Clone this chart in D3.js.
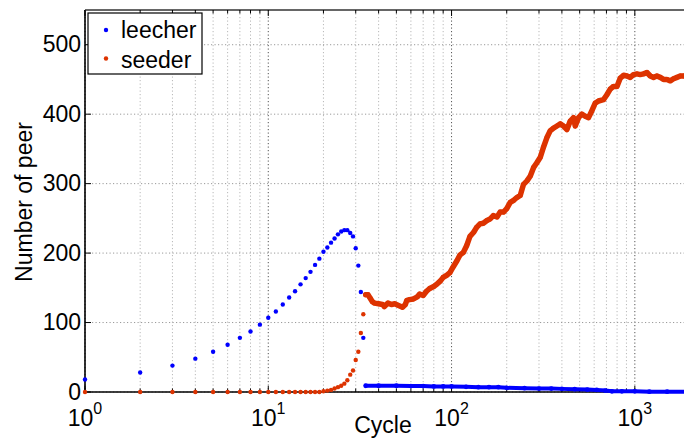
<!DOCTYPE html>
<html>
<head>
<meta charset="utf-8">
<script src="https://cdn.jsdelivr.net/npm/d3@7"></script>
<style>
  body { margin: 0; background: #fff; }
  svg { display: block; }
  text { font-family: "Liberation Sans", Arial, Helvetica, sans-serif; fill: #000; }
</style>
</head>
<body>
<svg id="chart" width="684" height="441"></svg>
<script>
// Peers in the swarm for cycles 1..33 (one reading per cycle)
const leecherEarly = [18, 28, 38, 48, 58, 68, 78, 87, 97, 107, 116, 126, 136, 145, 155,
  164, 173, 183, 192, 202, 208, 215, 221, 227, 231, 233, 233, 229, 224, 207, 182, 144, 78];
const seederEarly = [0, 0, 0, 0, 0, 0, 0, 0, 0, 0, 0, 0, 0, 0, 0, 0, 0, 0, 0,
  1, 2, 3, 5, 7, 9, 12, 17, 25, 31, 46, 58, 85, 112];

// Later cycles, given as [cycle, peers]
const leecherLate = [
  [34, 9], [40, 9], [50, 9], [60, 8.5], [70, 8.5], [80, 8], [90, 8], [100, 8],
  [120, 7.5], [140, 7], [160, 7], [180, 7], [200, 6], [250, 5.5], [300, 5],
  [350, 5], [400, 4.5], [470, 4], [550, 3.5], [620, 3], [690, 2], [750, 1],
  [850, 1], [1000, 1], [1200, 0.5], [1500, 0.5], [2000, 0.5]
];
const seederLate = [
  [34, 140], [35, 140], [36, 135], [37, 130], [38, 128], [40, 127], [42, 126],
  [43, 123], [45, 128], [47, 126], [49, 127], [51, 125], [54, 122], [56, 126],
  [57, 132], [59, 133], [62, 134], [65, 137], [67, 141], [70, 139], [73, 145],
  [76, 149], [80, 152], [83, 155], [87, 160], [90, 165], [94, 168], [98, 172],
  [102, 180], [107, 189], [111, 197], [116, 201], [121, 211], [126, 224],
  [132, 230], [137, 237], [143, 242], [149, 243], [156, 247], [162, 249],
  [169, 254], [177, 252], [184, 259], [192, 259], [200, 264], [209, 273],
  [218, 276], [227, 280], [237, 283], [247, 299], [258, 304], [269, 311],
  [280, 323], [292, 330], [305, 338], [317, 352], [331, 366], [345, 376],
  [360, 380], [376, 383], [392, 386], [408, 383], [426, 378], [444, 390],
  [463, 395], [473, 383], [493, 395], [514, 400], [536, 397], [559, 395],
  [583, 405], [608, 416], [634, 419], [675, 421], [704, 428], [734, 436],
  [765, 440], [799, 440], [833, 452], [868, 456], [906, 455], [944, 453],
  [984, 457], [1027, 458], [1070, 457], [1116, 458], [1164, 460], [1214, 455],
  [1265, 453], [1320, 455], [1376, 453], [1435, 450], [1497, 450], [1561, 448],
  [1627, 451], [1698, 453], [1770, 455], [1845, 455], [2000, 455]
];

const yTicks = [0, 100, 200, 300, 400, 500];
const xDecades = [1, 10, 100, 1000];
const seriesNames = ["leecher", "seeder"];
const colors = { leecher: "#0000ff", seeder: "#dd3300" };

const plot = { left: 85, right: 690, top: 10, bottom: 392 };
const x = d3.scaleLog().domain([1, 2000]).range([plot.left, plot.right]);
const y = d3.scaleLinear().domain([0, 550]).range([plot.bottom, plot.top]);

const svg = d3.select("#chart");

// grid
const grid = svg.append("g");
x.ticks().forEach(t => {
  const major = xDecades.includes(t);
  grid.append("line")
    .attr("x1", x(t)).attr("x2", x(t))
    .attr("y1", plot.top).attr("y2", plot.bottom)
    .attr("stroke", major ? "#555" : "#b8b8b8")
    .attr("stroke-width", 1)
    .attr("stroke-dasharray", "1.2,2.3");
});
yTicks.forEach(t => {
  grid.append("line")
    .attr("x1", plot.left).attr("x2", plot.right)
    .attr("y1", y(t)).attr("y2", y(t))
    .attr("stroke", "#999")
    .attr("stroke-width", 1)
    .attr("stroke-dasharray", "1.2,2.3");
});

// axes box and ticks
const axes = svg.append("g").attr("stroke", "#000");
axes.append("line").attr("x1", plot.left).attr("x2", plot.left)
  .attr("y1", plot.top).attr("y2", plot.bottom).attr("stroke-width", 1.6);
axes.append("line").attr("x1", plot.left).attr("x2", plot.right)
  .attr("y1", plot.bottom).attr("y2", plot.bottom).attr("stroke-width", 1.6);
axes.append("line").attr("x1", plot.left).attr("x2", plot.right)
  .attr("y1", plot.top).attr("y2", plot.top).attr("stroke-width", 1.6).attr("stroke", "#333");

x.ticks().forEach(t => {
  const len = xDecades.includes(t) ? 6 : 3.5;
  axes.append("line").attr("x1", x(t)).attr("x2", x(t))
    .attr("y1", plot.bottom).attr("y2", plot.bottom - len).attr("stroke-width", 1);
  axes.append("line").attr("x1", x(t)).attr("x2", x(t))
    .attr("y1", plot.top).attr("y2", plot.top + len).attr("stroke-width", 1);
});
yTicks.forEach(t => {
  axes.append("line").attr("x1", plot.left).attr("x2", plot.left + 6)
    .attr("y1", y(t)).attr("y2", y(t)).attr("stroke-width", 1);
});

// tick labels
const labels = svg.append("g").attr("font-size", 23);
yTicks.forEach(t => {
  labels.append("text").attr("x", 81).attr("y", y(t) + 7.5)
    .attr("text-anchor", "end").text(t);
});
xDecades.forEach(t => {
  const txt = labels.append("text").attr("x", x(t)).attr("y", 425.5)
    .attr("text-anchor", "middle");
  txt.append("tspan").text("10");
  txt.append("tspan").attr("font-size", 16).attr("dy", -12)
    .text(Math.round(Math.log10(t)));
});

// axis titles
svg.append("text").attr("x", 383).attr("y", 433).attr("text-anchor", "middle")
  .attr("font-size", 23).text("Cycle");
svg.append("text").attr("transform", "translate(32,202) rotate(-90)")
  .attr("text-anchor", "middle").attr("font-size", 23).text("Number of peer");

// data
const line = d3.line().x(d => x(d[0])).y(d => y(d[1]));
const early = { leecher: leecherEarly, seeder: seederEarly };
const late = { leecher: leecherLate, seeder: seederLate };
const bandWidth = { leecher: 4, seeder: 5.5 };

seriesNames.forEach(name => {
  const g = svg.append("g").attr("fill", colors[name]);
  g.selectAll("circle.early").data(early[name]).join("circle")
    .attr("class", "early")
    .attr("cx", (d, i) => x(i + 1)).attr("cy", d => y(d)).attr("r", 2.2);
  g.append("path").datum(late[name])
    .attr("d", line).attr("fill", "none")
    .attr("stroke", colors[name]).attr("stroke-width", bandWidth[name])
    .attr("stroke-linejoin", "round").attr("stroke-linecap", "round");
  g.selectAll("circle.late").data(late[name]).join("circle")
    .attr("class", "late")
    .attr("cx", d => x(d[0])).attr("cy", d => y(d[1])).attr("r", 2.4);
});

// legend
const legend = svg.append("g");
legend.append("rect").attr("x", 88).attr("y", 13).attr("width", 114).attr("height", 61)
  .attr("fill", "#fff").attr("stroke", "#000").attr("stroke-width", 1.2);
seriesNames.forEach((name, i) => {
  legend.append("circle").attr("cx", 106).attr("cy", 30 + i * 28.5).attr("r", 2.2)
    .attr("fill", colors[name]);
  legend.append("text").attr("x", 121).attr("y", 38 + i * 30).attr("font-size", 23).text(name);
});
</script>
</body>
</html>
